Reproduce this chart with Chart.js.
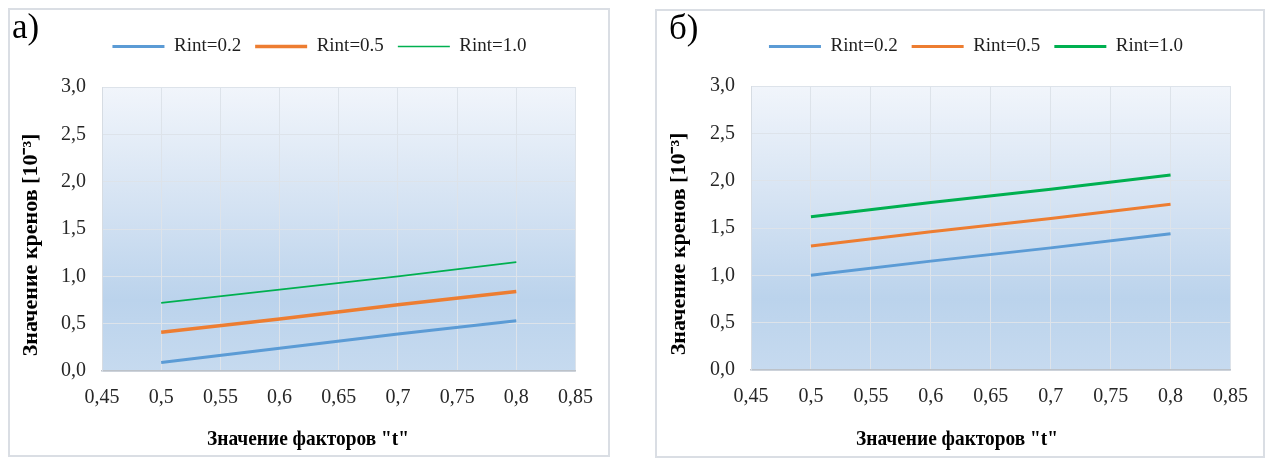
<!DOCTYPE html>
<html>
<head>
<meta charset="utf-8">
<script src="https://cdn.jsdelivr.net/npm/chart.js@4.4.1/dist/chart.umd.min.js"></script>
<style>
  html, body { margin: 0; padding: 0; background: #ffffff; width: 1267px; height: 461px; overflow: hidden; }
  .panel { position: absolute; box-sizing: border-box; border: 2px solid #dadee4; background: #ffffff; }
  .panel canvas { display: block; }
</style>
</head>
<body>
<div class="panel" style="left:8px; top:8px; width:602px; height:449px;"><canvas id="chartA" width="598" height="445"></canvas></div>
<div class="panel" style="left:655px; top:9px; width:610px; height:449px;"><canvas id="chartB" width="606" height="445"></canvas></div>
<script>
// Factor "t" values where the curves are given
const factorT = [0.5, 0.6, 0.7, 0.8];
const seriesNames = ['Rint=0.2', 'Rint=0.5', 'Rint=1.0'];

// Panel а)
const panelA_r02 = [0.09, 0.24, 0.39, 0.53];
const panelA_r05 = [0.41, 0.55, 0.70, 0.84];
const panelA_r10 = [0.72, 0.86, 1.00, 1.15];

// Panel б)
const panelB_r02 = [1.00, 1.15, 1.29, 1.44];
const panelB_r05 = [1.31, 1.46, 1.60, 1.75];
const panelB_r10 = [1.62, 1.77, 1.91, 2.06];

// Axis ticks
const xTickValues = [0.45, 0.5, 0.55, 0.6, 0.65, 0.7, 0.75, 0.8, 0.85];
const xTickLabels = ['0,45', '0,5', '0,55', '0,6', '0,65', '0,7', '0,75', '0,8', '0,85'];
const yTickValues = [0, 0.5, 1.0, 1.5, 2.0, 2.5, 3.0];
const yTickLabels = ['0,0', '0,5', '1,0', '1,5', '2,0', '2,5', '3,0'];

const xTitle = 'Значение факторов "t"';
const yTitle = 'Значение кренов [10⁻³]';

const COLORS = ['#5b9bd5', '#ed7d31', '#00b050'];
const SERIF = '"Liberation Serif", "Times New Roman", serif';

// Light-blue gradient behind the plotting area
const plotBackground = {
  id: 'plotBackground',
  beforeDraw(chart) {
    const { ctx, chartArea: a } = chart;
    const g = ctx.createLinearGradient(0, a.top, 0, a.bottom);
    g.addColorStop(0, '#f1f5fb');
    g.addColorStop(0.45, '#d2e1f2');
    g.addColorStop(0.75, '#bbd3ec');
    g.addColorStop(1, '#c6daef');
    ctx.save();
    ctx.fillStyle = g;
    ctx.fillRect(a.left, a.top, a.right - a.left, a.bottom - a.top);
    ctx.restore();
  }
};

// Moves the legend row to its place above the plot
const legendShift = {
  id: 'legendShift',
  afterLayout(chart, args, opts) {
    const lg = chart.legend;
    if (!lg) return;
    lg.left += opts.dx; lg.right += opts.dx;
    lg.top += opts.dy; lg.bottom += opts.dy;
  }
};

// Draws text centred at (x, y), narrowed to the given width when it is wider
function narrowText(ctx, text, x, y, maxWidth) {
  const w = ctx.measureText(text).width;
  const k = w > maxWidth ? maxWidth / w : 1;
  ctx.save();
  ctx.translate(x, y);
  ctx.scale(k, 1);
  ctx.fillText(text, 0, 0);
  ctx.restore();
}

// Panel letter and axis captions
const captions = {
  id: 'captions',
  afterDraw(chart, args, o) {
    const ctx = chart.ctx;
    ctx.save();
    ctx.fillStyle = '#000000';
    ctx.font = '35px ' + SERIF;
    ctx.textAlign = 'left';
    ctx.textBaseline = 'alphabetic';
    ctx.fillText(o.letter, o.letterX, o.letterY);

    ctx.font = 'bold 22px ' + SERIF;
    ctx.textAlign = 'center';
    ctx.textBaseline = 'middle';
    narrowText(ctx, xTitle, o.xTitleX, o.xTitleY, 202);

    ctx.translate(o.yTitleX, o.yTitleY);
    ctx.rotate(-Math.PI / 2);
    narrowText(ctx, yTitle, 0, 0, 224);
    ctx.restore();
  }
};

function makeDatasets(values, widths) {
  return values.map((v, i) => ({
    label: seriesNames[i],
    data: factorT.map((t, k) => ({ x: t, y: v[k] })),
    borderColor: COLORS[i],
    backgroundColor: COLORS[i],
    borderWidth: widths[i],
    pointRadius: 0,
    pointHoverRadius: 0,
    tension: 0,
    fill: false
  }));
}

function makeChart(canvasId, datasets, g) {
  return new Chart(document.getElementById(canvasId), {
    type: 'line',
    data: { datasets },
    plugins: [plotBackground, legendShift, captions],
    options: {
      responsive: false,
      animation: false,
      events: [],
      layout: { padding: { left: 0, right: g.padRight, top: g.padTop, bottom: 0 } },
      scales: {
        x: {
          type: 'linear',
          min: 0.45,
          max: 0.85,
          afterBuildTicks: s => { s.ticks = xTickValues.map(v => ({ value: v })); },
          afterFit: s => { s.height = g.xHeight; },
          ticks: {
            padding: 15,
            color: '#262626',
            font: { family: SERIF, size: 20 },
            maxRotation: 0,
            autoSkip: false,
            callback: (v, i) => xTickLabels[i]
          },
          grid: { color: '#dde3ea', lineWidth: 1, drawTicks: false },
          border: { color: '#bcc2c9', width: 1.5 }
        },
        y: {
          type: 'linear',
          min: 0,
          max: 3,
          afterBuildTicks: s => { s.ticks = yTickValues.map(v => ({ value: v })); },
          afterFit: s => { s.width = g.yWidth; },
          ticks: {
            padding: 16,
            color: '#262626',
            font: { family: SERIF, size: 20 },
            callback: (v, i) => yTickLabels[i]
          },
          grid: { color: '#dde3ea', lineWidth: 1, drawTicks: false },
          border: { color: '#d6dce3', width: 1 }
        }
      },
      plugins: {
        legend: {
          position: 'top',
          labels: {
            usePointStyle: true,
            pointStyle: 'line',
            pointStyleWidth: 52,
            padding: 14,
            color: '#1f1f1f',
            font: { family: SERIF, size: 19 }
          }
        },
        tooltip: { enabled: false },
        legendShift: { dx: g.legendDx, dy: g.legendDy },
        captions: g.captions
      }
    }
  });
}

makeChart('chartA', makeDatasets([panelA_r02, panelA_r05, panelA_r10], [3, 3.5, 1.6]), {
  padRight: 31, padTop: 34, xHeight: 84, yWidth: 92,
  legendDx: 26, legendDy: -21,
  captions: { letter: 'а)', letterX: 2, letterY: 28, xTitleX: 298, xTitleY: 429, yTitleX: 21, yTitleY: 235 }
});

makeChart('chartB', makeDatasets([panelB_r02, panelB_r05, panelB_r10], [3, 3, 3]), {
  padRight: 30, padTop: 32, xHeight: 86, yWidth: 94,
  legendDx: 31, legendDy: -20,
  captions: { letter: 'б)', letterX: 12, letterY: 28, xTitleX: 300, xTitleY: 428, yTitleX: 22, yTitleY: 233 }
});
</script>
</body>
</html>
